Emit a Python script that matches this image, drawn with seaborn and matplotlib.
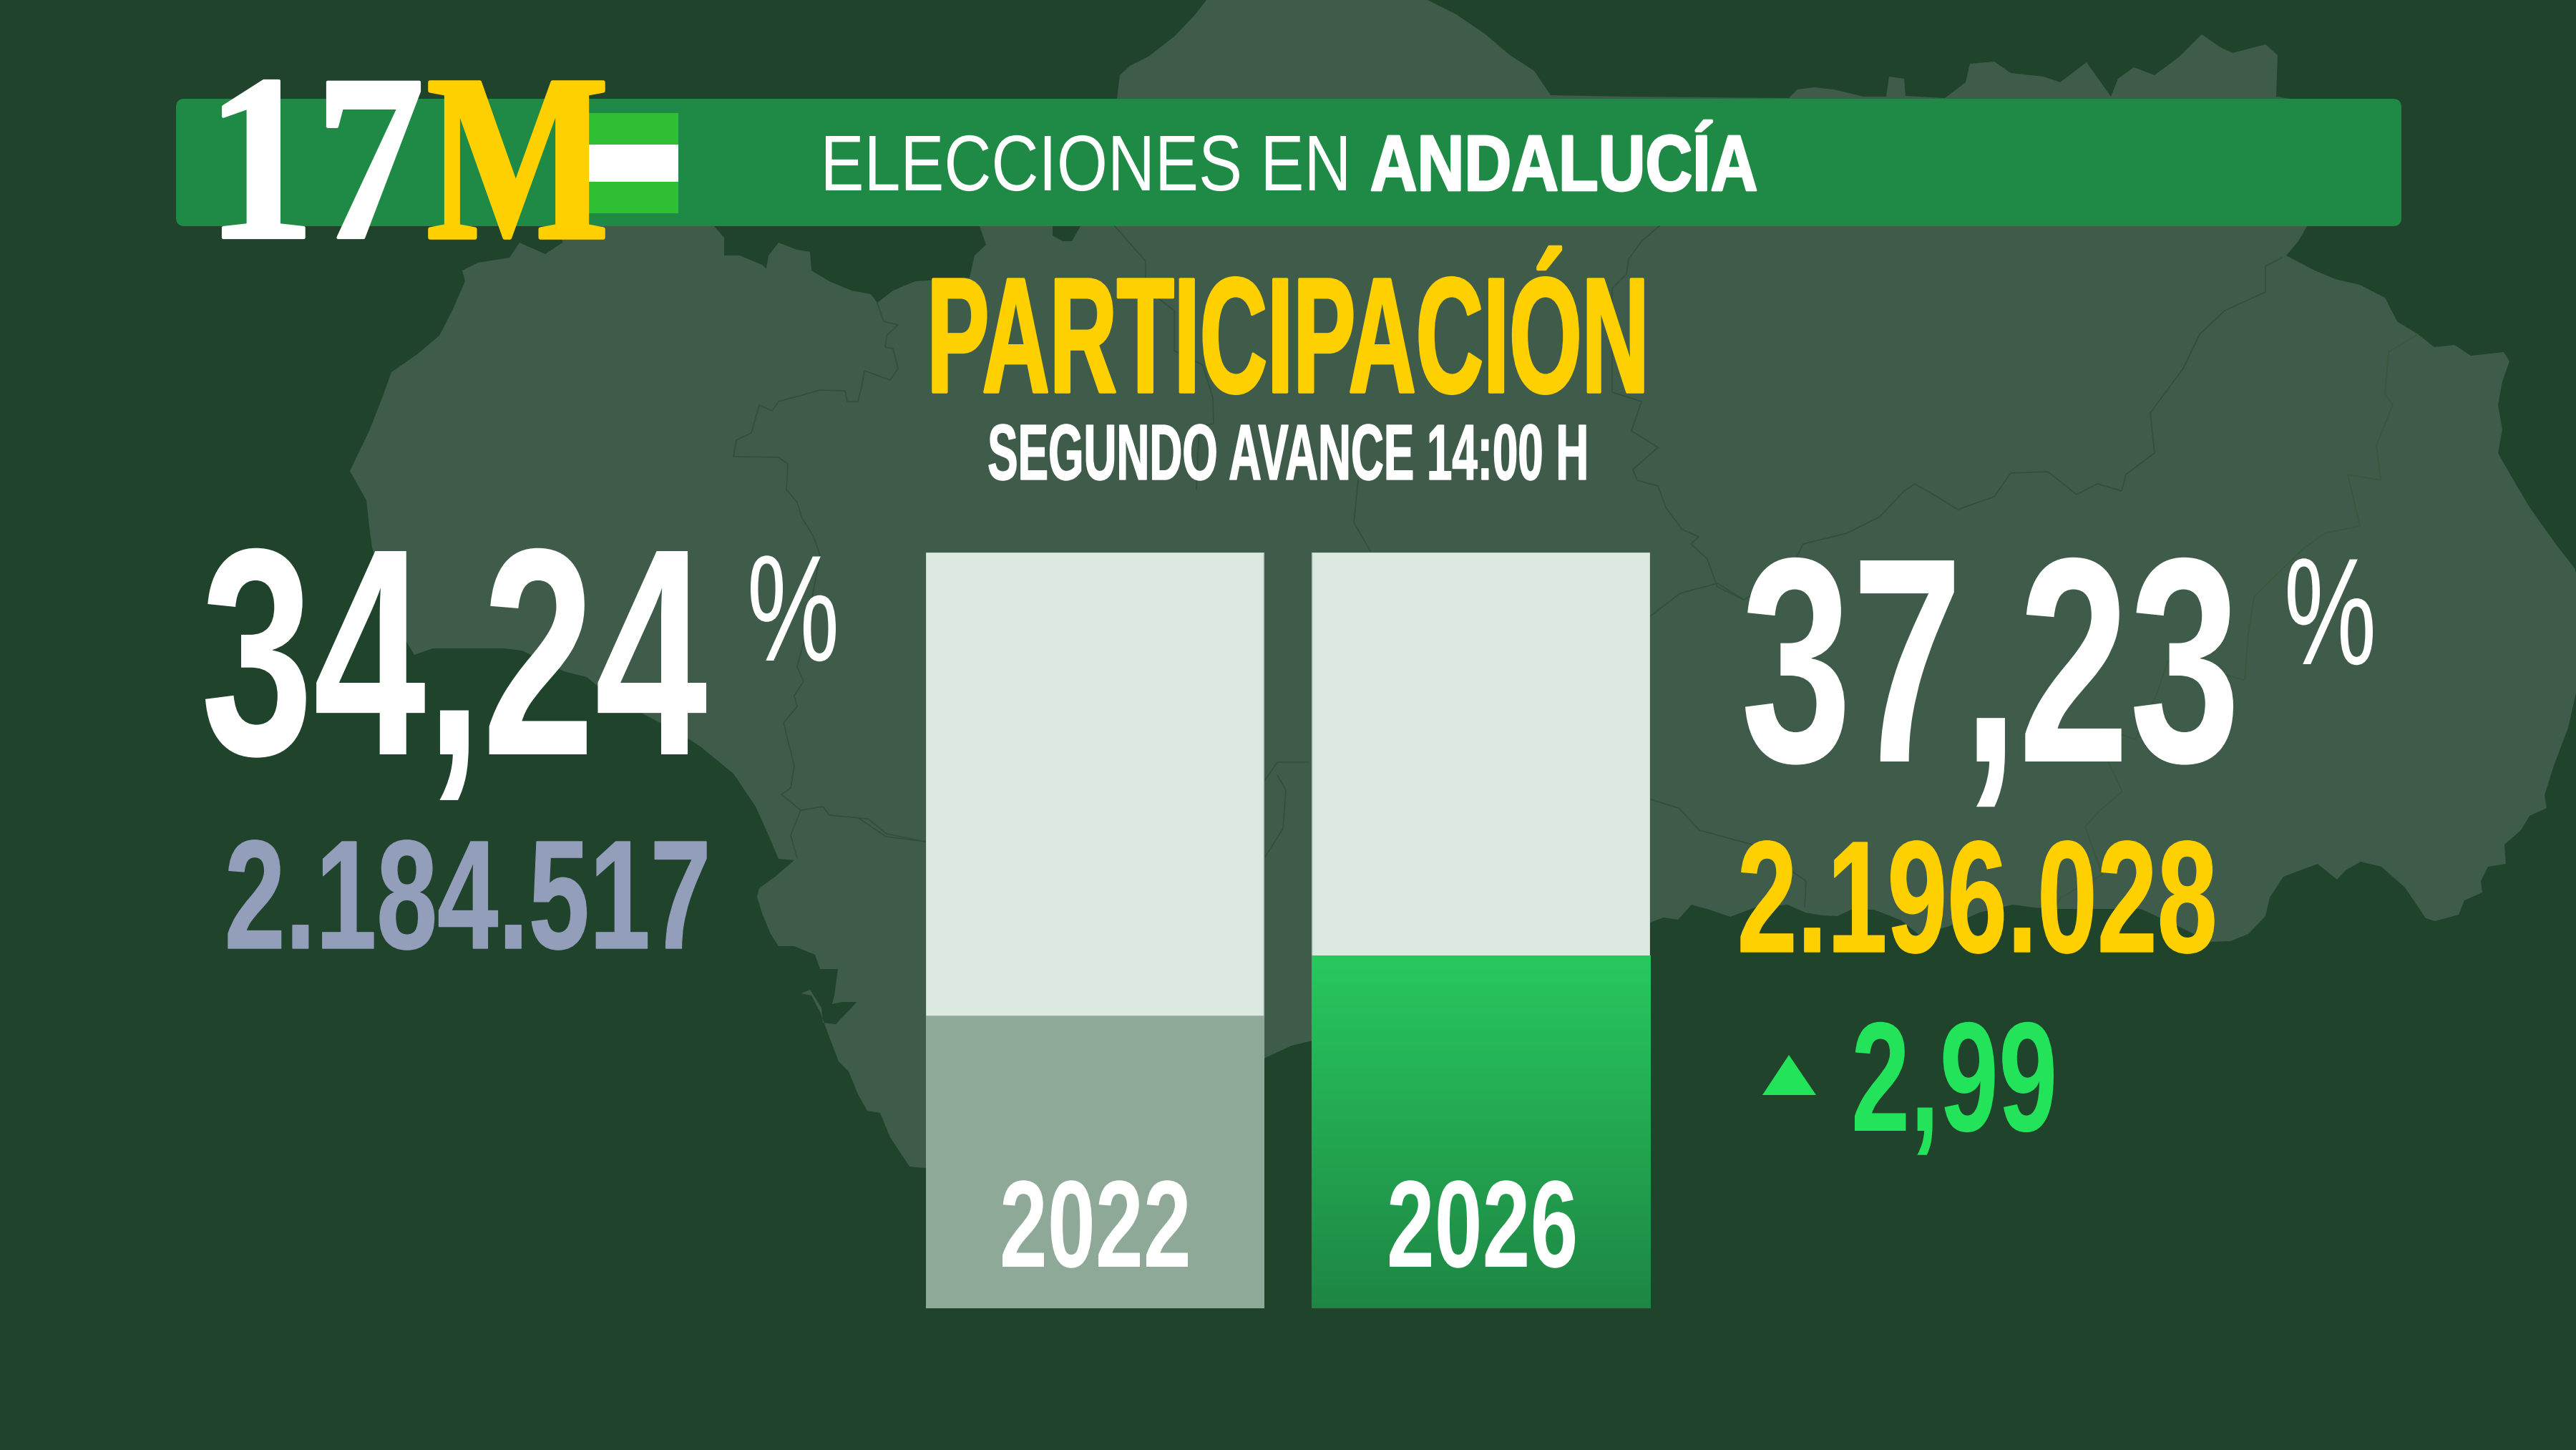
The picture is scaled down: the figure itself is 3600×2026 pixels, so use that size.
import numpy as np
import seaborn as sns
import matplotlib.pyplot as plt
from matplotlib.colors import LinearSegmentedColormap
from matplotlib.font_manager import FontProperties
from matplotlib.patches import FancyBboxPatch, Rectangle
from matplotlib.patheffects import AbstractPathEffect
from matplotlib.textpath import TextPath
from matplotlib.transforms import Affine2D

W, H, DPI = 3600, 2026, 100

# values shown in the picture
years = ["2022", "2026"]
bar_fill = [38.6, 46.6]  # filled height of each bar, % of column
bar_full = [100, 100]
turnout = ["34,24", "37,23"]
votes = ["2.184.517", "2.196.028"]
delta = "2,99"

BG = "#20432C"
LAND = "#3F5B4A"
BORDER = "#324F3D"
BORDER_EAST = "#3B5638"
GREEN = "#1E8A46"
FLAG = "#2FBF33"
YELLOW = "#FFD000"
SLATE = "#939EBB"
LIME = "#22E35A"
SANS = "Liberation Sans"
SERIF = "Liberation Serif"

# outline of Andalucia, in picture pixels
land = [
    (1561, 138), (1565, 105), (1579, 92), (1605, 79), (1641, 51), (1668, 23), (1686, 0),
    (1995, 0), (2035, 20), (2076, 48), (2110, 77), (2144, 99), (2167, 133), (2273, 135),
    (2500, 137), (2512, 125), (2535, 122), (2563, 125), (2604, 135), (2636, 135), (2640, 107),
    (2661, 110), (2663, 134), (2718, 137), (2747, 115), (2753, 89), (2787, 86), (2810, 102),
    (2856, 107), (2879, 115), (2916, 87), (2950, 135), (2960, 110), (2982, 94), (3011, 105),
    (3046, 79), (3077, 48), (3103, 66), (3120, 74), (3166, 62), (3183, 77), (3181, 135),
    (3201, 138), (3224, 316), (3212, 337), (3195, 357), (3235, 378), (3264, 390), (3298, 398),
    (3333, 416), (3350, 449), (3379, 467), (3402, 485), (3430, 482), (3453, 497), (3499, 492),
    (3507, 505), (3497, 533), (3491, 566), (3497, 600), (3491, 633), (3511, 668), (3534, 707),
    (3548, 727), (3573, 762), (3598, 794), (3600, 800), (3600, 968), (3589, 1017), (3569, 1070),
    (3556, 1111), (3559, 1129), (3535, 1140), (3523, 1160), (3500, 1180), (3502, 1207),
    (3477, 1211), (3467, 1231), (3469, 1247), (3444, 1258), (3436, 1278), (3403, 1287),
    (3390, 1283), (3361, 1240), (3328, 1211), (3299, 1204), (3278, 1216), (3266, 1229),
    (3239, 1207), (3212, 1217), (3191, 1225), (3172, 1254), (3166, 1280), (3142, 1305),
    (3117, 1315), (3088, 1316), (3052, 1298), (2992, 1270), (2874, 1270), (2842, 1268),
    (2813, 1264), (2766, 1275), (2727, 1293), (2683, 1307), (2657, 1286), (2619, 1271),
    (2587, 1271), (2568, 1280), (2546, 1279), (2523, 1275), (2498, 1264), (2453, 1268),
    (2418, 1281), (2389, 1271), (2364, 1264), (2345, 1285), (2325, 1282), (2306, 1289),
    (1834, 1454), (1805, 1461), (1766, 1479), (1293, 1632), (1271, 1630), (1244, 1589),
    (1230, 1555), (1212, 1552), (1199, 1529), (1186, 1497), (1172, 1483), (1159, 1449),
    (1146, 1414), (1134, 1391), (1119, 1388), (1132, 1383), (1148, 1408), (1150, 1429),
    (1168, 1431), (1190, 1408), (1197, 1400), (1177, 1400), (1163, 1403), (1166, 1391),
    (1171, 1354), (1146, 1354), (1139, 1334), (1110, 1322), (1088, 1322), (1077, 1305),
    (1065, 1276), (1058, 1253), (1061, 1241), (1083, 1225), (1110, 1202), (1088, 1200),
    (1074, 1167), (1056, 1127), (1025, 1081), (980, 1044), (954, 1027), (900, 998),
    (838, 961), (820, 946), (788, 938), (730, 909), (704, 906), (605, 906), (579, 915),
    (540, 850), (520, 765), (516, 735), (512, 699), (489, 658), (516, 602), (534, 556),
    (547, 520), (583, 495), (614, 469), (632, 434), (650, 393), (646, 378), (668, 367),
    (712, 360), (726, 339), (762, 355), (786, 339), (784, 316), (800, 230), (990, 230),
    (998, 316), (1012, 332), (1012, 357), (1034, 357), (1065, 370), (1071, 375), (1074, 357),
    (1088, 339), (1114, 349), (1132, 352), (1134, 378), (1159, 393), (1190, 406), (1217, 411),
    (1226, 423), (1248, 406), (1279, 393), (1355, 388), (1362, 357), (1378, 342), (1369, 316),
    (1400, 230), (1460, 230), (1471, 315), (1471, 329), (1485, 337), (1498, 337), (1510, 316),
    (1540, 230),
]

# province borders, same units
borders = [
    [(1558, 316), (1601, 365), (1601, 403), (1641, 434), (1641, 490), (1681, 510), (1695, 556),
     (1696, 592), (1676, 596), (1672, 684)],
    [(1226, 423), (1235, 449), (1255, 454), (1239, 469), (1237, 485), (1248, 487), (1255, 515),
     (1244, 531), (1208, 518), (1204, 541), (1199, 561), (1184, 561), (1181, 546), (1146, 545),
     (1114, 554), (1088, 561), (1079, 574), (1061, 566), (1050, 605), (1029, 615), (1025, 638),
     (1088, 639), (1101, 648), (1099, 684), (1114, 702), (1121, 724), (1137, 750), (1146, 776),
     (1123, 898), (1114, 932), (1123, 952), (1110, 972), (1114, 987), (1095, 1010), (1110, 1070),
     (1105, 1101), (1092, 1110), (1119, 1132), (1150, 1127), (1159, 1139), (1213, 1144),
     (1239, 1165), (1293, 1176)],
    [(1119, 1132), (1105, 1167), (1114, 1199)],
    [(2319, 316), (2294, 337), (2276, 362), (2273, 383), (2253, 403), (2253, 548), (2294, 561),
     (2280, 602), (2317, 625), (2282, 656), (2288, 671), (2317, 679), (2328, 709), (2351, 740),
     (2374, 750), (2363, 760), (2386, 781), (2400, 820), (2437, 838)],
    [(2306, 861), (2348, 829), (2400, 815), (2437, 838)],
    [(2520, 760), (2581, 745), (2627, 722), (2661, 686), (2676, 676), (2707, 694), (2736, 712),
     (2787, 694), (2810, 661), (2862, 659), (2902, 691), (2931, 676), (2965, 686), (2971, 663),
     (3011, 633), (3005, 577), (3051, 515), (3074, 467), (3109, 434), (3166, 408), (3166, 372),
     (3189, 360)],
    [(2520, 760), (2500, 800), (2437, 838)],
    [(2307, 1117), (2346, 1129), (2375, 1160), (2408, 1169), (2449, 1180), (2524, 1231), (2522, 1267)],
    [(1768, 1090), (1785, 1065), (1828, 1065)],
    [(1768, 1197), (1793, 1158), (1797, 1104), (1785, 1083)],
    [(1898, 671), (1892, 730), (1915, 770)],
    [(1200, 1143), (1238, 1169), (1294, 1176)],
]
border_east = [(3379, 467), (3338, 492), (3333, 551), (3344, 566), (3321, 622), (3327, 671),
               (3281, 663), (3298, 735), (3249, 745), (3216, 769), (3150, 834), (3142, 887),
               (3137, 950), (3030, 923), (3013, 972), (2984, 1033), (2938, 1017), (2947, 1066),
               (2966, 1106), (2934, 1133), (2914, 1155), (2938, 1222), (2880, 1254), (2872, 1267)]


class TallText(AbstractPathEffect):
    """Stretches text upward from its baseline, no condensed font is installed."""

    def __init__(self, sy, base, lsb, stroke=0):
        self.sy, self.base, self.lsb, self.stroke = sy, base, lsb, stroke

    def draw_path(self, renderer, gc, tpath, affine, rgbFace=None):
        tall = Affine2D().translate(-self.lsb, -self.base).scale(1, self.sy).translate(0, self.base)
        gc = self._update_gc(gc, {})
        if self.stroke:
            gc.set_linewidth(self.stroke)
            gc.set_foreground(rgbFace)
        renderer.draw_path(gc, tpath, affine + tall, rgbFace)


def fit_text(ax, s, left, right, top, base, color, family=SANS, weight="bold", ref="H", stroke=0):
    # font size from ink width, stretch from cap height
    fp = FontProperties(family=family, weight=weight)
    ext = TextPath((0, 0), s, size=100, prop=fp).get_extents()
    cap = TextPath((0, 0), ref, size=100, prop=fp).get_extents().height
    k = (right - left) / ext.width
    size = k * 100 * 72 / DPI
    fx = TallText((base - top) / (cap * k), H - base, ext.x0 * k, stroke)
    return ax.text(left, base, s, fontsize=size, family=family, weight=weight, color=color,
                   ha="left", va="baseline", path_effects=[fx])


sns.set_theme(style="white")
fig = plt.figure(figsize=(W / DPI, H / DPI), dpi=DPI, facecolor=BG)


def px_axes(zorder):
    a = fig.add_axes([0, 0, 1, 1], zorder=zorder)
    a.set_xlim(0, W)
    a.set_ylim(H, 0)
    a.axis("off")
    a.patch.set_alpha(0)
    return a


# background map and header
ax = px_axes(0)
land_x, land_y = zip(*land)
ax.fill(land_x, land_y, color=LAND, lw=0)
for b in borders:
    bx, by = zip(*b)
    sns.lineplot(x=list(bx), y=list(by), sort=False, estimator=None, color=BORDER, lw=1.2, ax=ax)
ex, ey = zip(*border_east)
sns.lineplot(x=list(ex), y=list(ey), sort=False, estimator=None, color=BORDER_EAST, lw=1.2, ax=ax)
ax.set_xlim(0, W)
ax.set_ylim(H, 0)
ax.add_patch(FancyBboxPatch((246, 138), 3110, 178, boxstyle="round,pad=0,rounding_size=12",
                            fc=GREEN, ec="none", mutation_aspect=1))
ax.add_patch(Rectangle((800, 158), 148, 44, fc=FLAG, ec="none"))
ax.add_patch(Rectangle((800, 202), 148, 52, fc="white", ec="none"))
ax.add_patch(Rectangle((800, 254), 148, 44, fc=FLAG, ec="none"))

# bars
bar_left, bar_right, bar_top, bar_bottom = 1294, 2306, 772, 1828
ax_bars = fig.add_axes([bar_left / W, 1 - bar_bottom / H, (bar_right - bar_left) / W, (bar_bottom - bar_top) / H],
                       zorder=1)
sns.barplot(x=years, y=bar_full, color="#DCE9E0", saturation=1, width=0.874,
            edgecolor="#C4D2C9", linewidth=1.2, ax=ax_bars)
n_back = len(ax_bars.patches)
sns.barplot(x=years, y=bar_fill, hue=years, palette=["#8FA998", "#1E8644"], saturation=1, width=0.874,
            legend=False, linewidth=0, ax=ax_bars)
fill_2026 = ax_bars.patches[-1]
for p in ax_bars.patches[n_back:]:
    p.set_edgecolor(p.get_facecolor())
    p.set_linewidth(1.2)
    if p.get_height() > bar_fill[0]:
        fill_2026 = p
grad = LinearSegmentedColormap.from_list("fill", ["#28C85F", "#1E8644"])
pad = 0.002
im = ax_bars.imshow(np.linspace(0, 1, 256).reshape(-1, 1), cmap=grad, aspect="auto", zorder=5,
                    extent=(fill_2026.get_x() - pad, fill_2026.get_x() + fill_2026.get_width() + pad,
                            0, fill_2026.get_height()))
ax_bars.set_xlim(-0.437, 1.437)
ax_bars.set_ylim(0, 100)
ax_bars.axis("off")
ax_bars.patch.set_alpha(0)

# all the text goes on top
top = px_axes(2)
fit_text(top, "17", 312, 586, 113, 332, "white", SERIF, ref="1", stroke=3)
fit_text(top, "M", 601, 843, 115, 332, YELLOW, SERIF, ref="M", stroke=4)
fit_text(top, "ELECCIONES EN", 1154, 1881, 190, 266, "white", weight="normal")
fit_text(top, "ANDALUCÍA", 1917, 2454, 190, 266, "white", stroke=2)
fit_text(top, "PARTICIPACIÓN", 1304, 2296, 390, 548, YELLOW, stroke=2.5)
fit_text(top, "SEGUNDO AVANCE 14:00 H", 1382, 2216, 594, 670, "white", stroke=1)
fit_text(top, turnout[0], 287, 987, 770, 1054, "white", ref="1")
fit_text(top, "%", 1049, 1168, 775, 923, "white", weight="normal", ref="%")
fit_text(top, turnout[1], 2439, 3121, 783, 1064, "white", ref="1")
fit_text(top, "%", 3197, 3316, 779, 928, "white", weight="normal", ref="%")
fit_text(top, votes[0], 319, 987, 1176, 1325, SLATE, ref="1", stroke=1)
fit_text(top, votes[1], 2433, 3094, 1177, 1330, YELLOW, ref="1", stroke=1)
fit_text(top, delta, 2592, 2870, 1430, 1580, LIME, ref="1")
top.fill([2463, 2538, 2500], [1530, 1530, 1474], color=LIME, lw=0)
fit_text(top, years[0], 1401, 1660, 1651, 1770, "white", ref="1")
fit_text(top, years[1], 1942, 2201, 1651, 1770, "white", ref="1")
top.set_xlim(0, W)
top.set_ylim(H, 0)

fig.savefig("out.png", dpi=DPI, facecolor=BG)
